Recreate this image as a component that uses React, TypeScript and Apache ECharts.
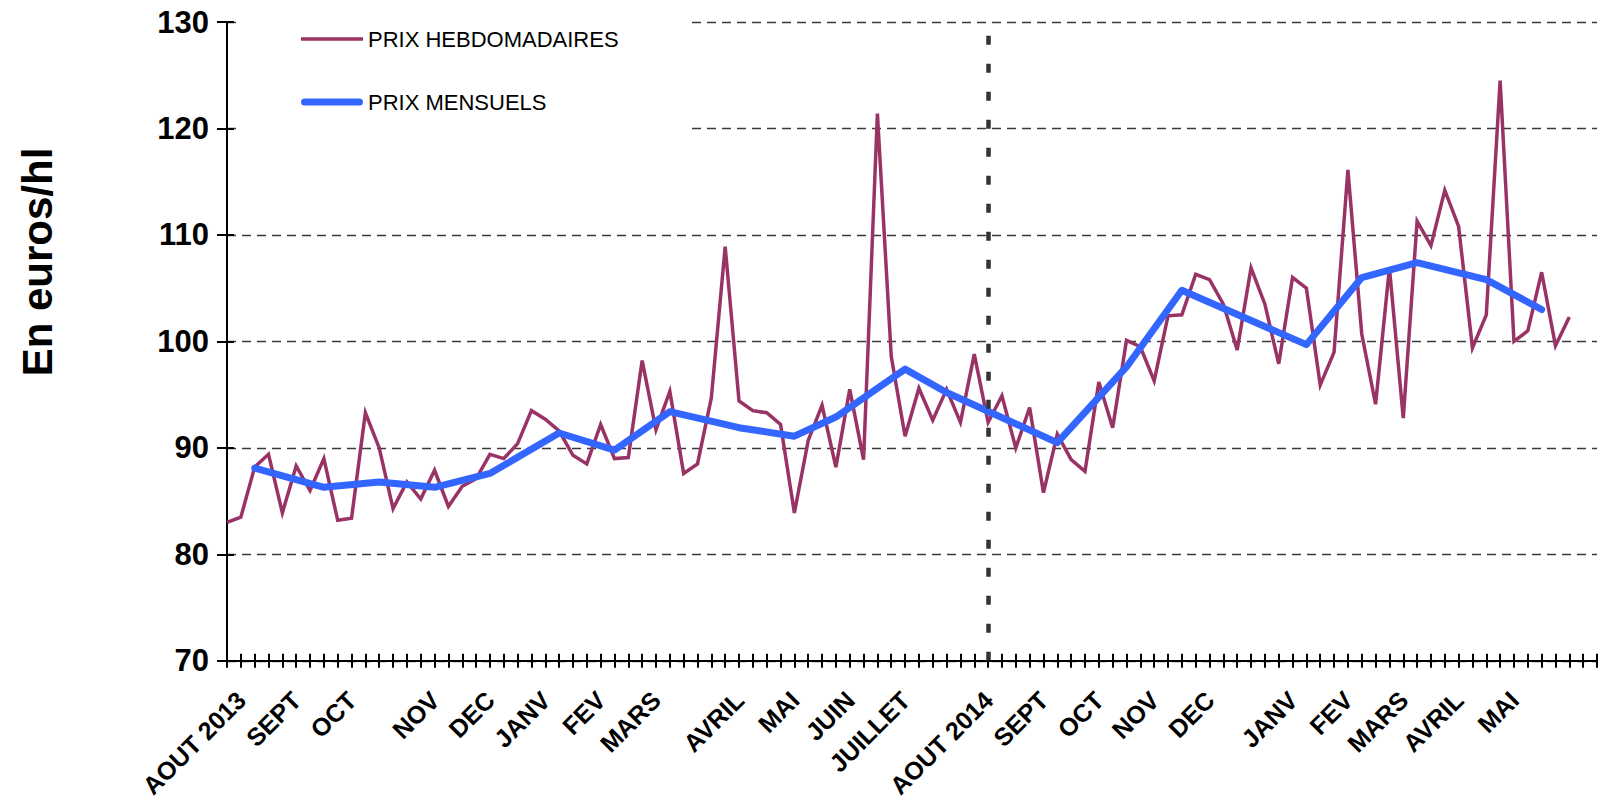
import React, { useEffect, useRef } from 'react';
import * as echarts from 'echarts';

// ---- data ----
const weekSlots = 100;
const weekIds: string[] = Array.from({ length: weekSlots }, (_, i) => `S${i + 1}`);

const monthTickWeeks = [0, 4, 8, 14, 18, 22, 26, 30, 36, 40, 44, 48, 54, 58, 62, 66, 70, 76, 80, 84, 88, 92];
const monthTickLabels = [
  'AOUT 2013', 'SEPT', 'OCT', 'NOV', 'DEC', 'JANV', 'FEV', 'MARS', 'AVRIL', 'MAI', 'JUIN', 'JUILLET',
  'AOUT 2014', 'SEPT', 'OCT', 'NOV', 'DEC', 'JANV', 'FEV', 'MARS', 'AVRIL', 'MAI',
];

const weeklyPrices = [
  83.0, 83.5, 88.2, 89.4, 83.9, 88.3, 86.0, 89.0, 83.2, 83.4,
  93.3, 90.0, 84.3, 86.8, 85.2, 87.9, 84.5, 86.4, 87.1, 89.4,
  89.0, 90.4, 93.5, 92.7, 91.6, 89.3, 88.5, 92.2, 89.0, 89.1,
  98.2, 91.7, 95.3, 87.6, 88.5, 94.7, 108.9, 94.4, 93.5, 93.3,
  92.2, 83.9, 90.7, 94.0, 88.2, 95.5, 88.9, 121.4, 98.6, 91.1,
  95.6, 92.6, 95.5, 92.4, 98.8, 92.4, 94.9, 90.0, 93.8, 85.8,
  91.3, 88.9, 87.8, 96.2, 91.9, 100.1, 99.5, 96.3, 102.4, 102.5,
  106.3, 105.8, 103.5, 99.2, 106.9, 103.5, 97.9, 106.0, 105.0, 95.9,
  99.0, 116.1, 100.7, 94.1, 106.9, 92.8, 111.3, 109.0, 114.2, 110.8,
  99.4, 102.5, 124.5, 100.0, 101.0, 106.5, 99.6, 102.3,
];

const monthlyWeeks = [2, 7, 11, 15, 19, 24, 28, 32, 37, 41, 44, 49, 52, 60, 65, 69, 78, 82, 86, 91, 95];
const monthlyPrices = [
  88.1, 86.3, 86.8, 86.3, 87.6, 91.4, 89.8, 93.4, 91.9, 91.1, 92.9, 97.4, 95.2, 90.5, 97.6, 104.8,
  99.7, 106.0, 107.4, 105.8, 103.0,
];

const campaignStartWeek = 55;
const yMin = 70;
const yMax = 130;
const yStep = 10;

const FONT = '"Liberation Sans", Arial, Helvetica, sans-serif';

// legend swatches (thin plum line, thick rounded blue line)
const WEEKLY_ICON = 'path://M0,0H62V3.4H0Z';
const MONTHLY_ICON = 'path://M3.5,0H58.5A3.5,3.5 0 0 1 58.5,7H3.5A3.5,3.5 0 0 1 3.5,0Z';

export default function App() {
  const ref = useRef<HTMLDivElement>(null);

  useEffect(() => {
    document.body.style.margin = '0';
    if (!ref.current) return;
    const chart = echarts.init(ref.current, undefined, { renderer: 'svg' });

    const labelMap: Record<number, string> = {};
    monthTickWeeks.forEach((w, i) => {
      labelMap[w] = monthTickLabels[i];
    });

    const tickStyle = { color: '#000', width: 2 };

    chart.setOption({
      animation: false,
      backgroundColor: '#fff',
      grid: { left: 227, right: 7, top: 22, bottom: 138, containLabel: false },
      legend: {
        orient: 'vertical',
        left: 296,
        top: 23,
        itemWidth: 62,
        itemHeight: 14,
        itemGap: 41,
        selectedMode: false,
        textStyle: { fontSize: 22, color: '#000', fontFamily: FONT },
        data: [
          { name: 'PRIX HEBDOMADAIRES', icon: WEEKLY_ICON },
          { name: 'PRIX MENSUELS', icon: MONTHLY_ICON },
        ],
      },
      graphic: [
        {
          type: 'rect',
          shape: { x: 237, y: 0, width: 452, height: 140 },
          style: { fill: '#fff' },
          z: 1,
          silent: true,
        },
        {
          type: 'text',
          x: 37,
          y: 262,
          rotation: Math.PI / 2,
          style: {
            text: 'En euros/hl',
            fill: '#000',
            font: `bold 42px ${FONT}`,
            align: 'center',
            verticalAlign: 'middle',
          },
        },
      ],
      xAxis: [
        {
          type: 'category',
          position: 'bottom',
          data: weekIds,
          boundaryGap: false,
          axisLine: { show: true, lineStyle: { color: '#000', width: 2 } },
          axisTick: { show: true, interval: 0, length: 7, lineStyle: tickStyle },
          axisLabel: {
            show: true,
            interval: 0,
            rotate: 45,
            margin: 49,
            padding: [0, -20, 0, 0],
            color: '#000',
            fontSize: 25,
            fontWeight: 'bold',
            fontFamily: FONT,
            formatter: (_v: string, idx: number) => labelMap[idx] ?? '',
          },
          splitLine: { show: false },
        },
        {
          type: 'category',
          position: 'bottom',
          data: weekIds,
          boundaryGap: false,
          axisLine: { show: false },
          axisTick: { show: true, inside: true, interval: 0, length: 7, lineStyle: tickStyle },
          axisLabel: { show: false },
          splitLine: { show: false },
        },
      ],
      yAxis: [
        {
          type: 'value',
          position: 'left',
          min: yMin,
          max: yMax,
          interval: yStep,
          axisLine: { show: true, lineStyle: { color: '#000', width: 2 } },
          axisTick: { show: true, length: 10, lineStyle: tickStyle },
          axisLabel: {
            color: '#000',
            fontSize: 31,
            fontWeight: 'bold',
            fontFamily: FONT,
            margin: 18,
          },
          splitLine: { show: true, lineStyle: { color: '#3a3a3a', width: 1.3, type: [9, 6] } },
        },
        {
          type: 'value',
          position: 'left',
          min: yMin,
          max: yMax,
          interval: yStep,
          axisLine: { show: false },
          axisTick: { show: true, inside: true, length: 7, lineStyle: tickStyle },
          axisLabel: { show: false },
          splitLine: { show: false },
        },
      ],
      series: [
        {
          name: 'PRIX HEBDOMADAIRES',
          type: 'line',
          xAxisIndex: 0,
          yAxisIndex: 0,
          data: weeklyPrices,
          symbol: 'none',
          showSymbol: false,
          lineStyle: { color: '#993366', width: 3.5, join: 'miter' },
          itemStyle: { color: '#993366' },
          z: 3,
          markLine: {
            silent: true,
            symbol: ['none', 'none'],
            label: { show: false },
            emphasis: { disabled: true },
            lineStyle: { color: '#333', width: 4.5, type: [9, 19] },
            data: [{ xAxis: weekIds[campaignStartWeek] }],
          },
        },
        {
          name: 'PRIX MENSUELS',
          type: 'line',
          xAxisIndex: 0,
          yAxisIndex: 0,
          data: monthlyWeeks.map((w, i) => [w, monthlyPrices[i]]),
          symbol: 'none',
          showSymbol: false,
          lineStyle: { color: '#3366ff', width: 7, cap: 'round', join: 'round' },
          itemStyle: { color: '#3366ff' },
          z: 4,
        },
      ],
    });

    return () => {
      chart.dispose();
    };
  }, []);

  return (
    <div
      ref={ref}
      style={{ position: 'absolute', left: 0, top: 0, width: 1604, height: 801 }}
    />
  );
}
